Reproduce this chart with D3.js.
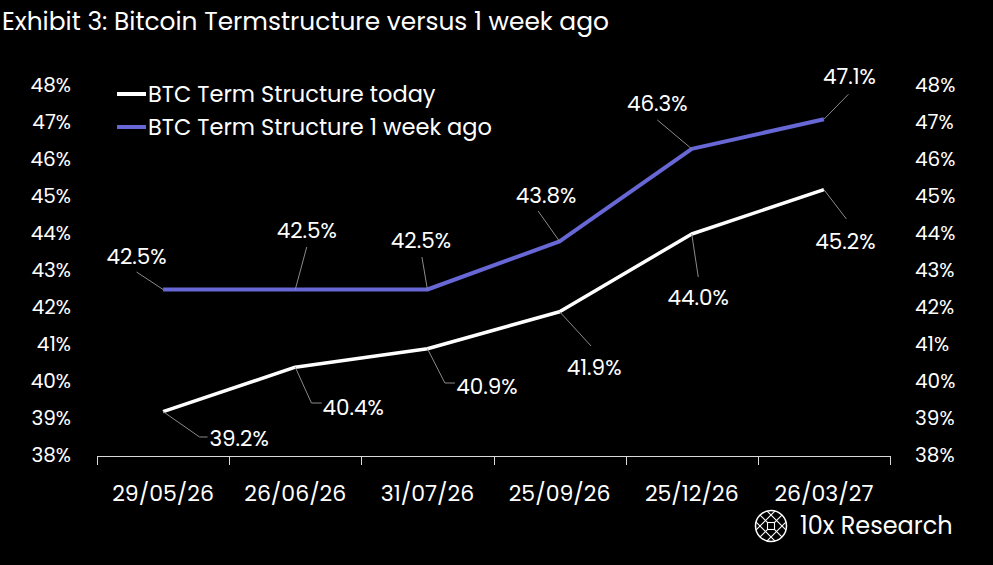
<!DOCTYPE html>
<html><head><meta charset="utf-8">
<script src="https://cdn.jsdelivr.net/npm/d3@7/dist/d3.min.js"></script>
<style>
html,body{margin:0;padding:0;background:#000;}
svg{display:block;font-family:"Poppins","Inter","Open Sans",sans-serif;}
</style></head>
<body><svg id="c" width="993" height="565"></svg>
<script>
const categories = ["29/05/26","26/06/26","31/07/26","25/09/26","25/12/26","26/03/27"];
const today = [39.2, 40.4, 40.9, 41.9, 44.0, 45.2];
const weekAgo = [42.5, 42.5, 42.5, 43.8, 46.3, 47.1];
const yTicks = [38,39,40,41,42,43,44,45,46,47,48];
const seriesNames = ["BTC Term Structure today","BTC Term Structure 1 week ago"];

// label layout (offsets from point): text offset, leader points
const weekLabelLayout = [
  {t:[-26.5,-33.5], l:[[-26.5,-17.5]]},
  {t:[11.5,-59.5], l:[[11.5,-42.5]]},
  {t:[-6.5,-49.5], l:[[-5.5,-32.5]]},
  {t:[-13.5,-46.4], l:[[-21.5,-30.4]]},
  {t:[-34.5,-45.4], l:[[-34.5,-29]]},
  {t:[25.5,-43.3], l:[[24.5,-25]]}
];
const todayLabelLayout = [
  {t:[76,26.4], l:[[36.5,25.4],[44.5,25.4]]},
  {t:[58,39.8], l:[[16.2,35.8],[26.5,35.8]]},
  {t:[59.5,37.3], l:[[17.5,34.3],[27.5,34.3]]},
  {t:[34.5,55.3], l:[[31.5,34.3]]},
  {t:[6.5,63], l:[[6.5,43]]},
  {t:[21.5,51.4], l:[[22.5,29.4]]}
];

const svg = d3.select("#c");
const x = d3.scaleBand().domain(categories).range([97, 890]).padding(0);
const y = d3.scaleLinear().domain([38,48]).range([456,86]);
const cx = d => x(d) + x.bandwidth()/2;

// title
svg.append("text").attr("x",2).attr("y",30).attr("fill","#fff")
  .attr("font-size",24.9).text("Exhibit 3: Bitcoin Termstructure versus 1 week ago");

// y axes
const yl = svg.append("g").attr("transform","translate(84,-0.5)")
  .call(d3.axisLeft(y).tickValues(yTicks).tickSize(0).tickPadding(13).tickFormat(d=>d+"%"));
const yr = svg.append("g").attr("transform","translate(902,-0.5)")
  .call(d3.axisRight(y).tickValues(yTicks).tickSize(0).tickPadding(13).tickFormat(d=>d+"%"));
[yl,yr].forEach(g=>{
  g.select(".domain").remove();
  g.selectAll("text").attr("fill","#fff").attr("font-size",20).attr("font-family","Poppins, Inter, sans-serif");
});

// x axis
const xa = svg.append("g");
xa.append("line").attr("x1",x.range()[0]).attr("x2",x.range()[1]).attr("y1",456.5).attr("y2",456.5)
  .attr("stroke","#d9d9d9").attr("stroke-width",1);
const bounds = categories.map(c=>x(c)).concat([x.range()[1]]);
xa.selectAll("line.tk").data(bounds).enter().append("line").attr("class","tk")
  .attr("x1",d=>Math.round(d)+0.5).attr("x2",d=>Math.round(d)+0.5).attr("y1",456).attr("y2",465)
  .attr("stroke","#d9d9d9").attr("stroke-width",1);
xa.selectAll("text").data(categories).enter().append("text")
  .attr("x",d=>cx(d)).attr("y",493).attr("dy","0.35em").attr("text-anchor","middle")
  .attr("fill","#fff").attr("font-size",22).text(d=>d);

// lines
const line = d3.line().x((d,i)=>cx(categories[i])).y(d=>y(d));
svg.append("path").datum(weekAgo).attr("d",line).attr("fill","none")
  .attr("stroke","#6767d6").attr("stroke-width",4).attr("stroke-linejoin","round");
svg.append("path").datum(today).attr("d",line).attr("fill","none")
  .attr("stroke","#ffffff").attr("stroke-width",3.5).attr("stroke-linejoin","round");

// labels
function labels(vals, layout){
  vals.forEach((v,i)=>{
    const px = cx(categories[i]), py = y(v);
    const pts = [[px,py]].concat(layout[i].l.map(p=>[px+p[0],py+p[1]]));
    svg.append("path").attr("d",d3.line()(pts)).attr("fill","none")
      .attr("stroke","#8a8a8a").attr("stroke-width",1);
    svg.append("text").attr("x",px+layout[i].t[0]).attr("y",py+layout[i].t[1])
      .attr("dy","0.35em").attr("text-anchor","middle").attr("fill","#fff")
      .attr("font-size",21.5).text(v.toFixed(1)+"%");
  });
}
labels(weekAgo, weekLabelLayout);
labels(today, todayLabelLayout);

// legend
const leg = svg.append("g");
[["#ffffff",94],["#6767d6",127]].forEach((c,i)=>{
  leg.append("line").attr("x1",117).attr("x2",146).attr("y1",c[1]).attr("y2",c[1])
    .attr("stroke",c[0]).attr("stroke-width",4);
  leg.append("text").attr("x",148).attr("y",c[1]).attr("dy","0.35em").attr("fill","#fff")
    .attr("font-size",22.5).text(seriesNames[i]);
});

// logo
const lg = svg.append("g").attr("transform","translate(771,526)");
lg.append("clipPath").attr("id","lc").append("circle").attr("r",15.5);
lg.append("circle").attr("r",15.5).attr("fill","none").attr("stroke","#fff").attr("stroke-width",1.5);
const lat = lg.append("g").attr("clip-path","url(#lc)");
[-11,0,11].forEach(o=>{
  lat.append("line").attr("x1",-20).attr("y1",-20+o).attr("x2",20).attr("y2",20+o).attr("stroke","#fff").attr("stroke-width",1.1);
  lat.append("line").attr("x1",-20).attr("y1",20+o).attr("x2",20).attr("y2",-20+o).attr("stroke","#fff").attr("stroke-width",1.1);
});
lg.append("rect").attr("x",-3.5).attr("y",-3.5).attr("width",7).attr("height",7).attr("fill","#000").attr("stroke","#fff").attr("stroke-width",1.1);
svg.append("text").attr("x",800).attr("y",526).attr("dy","0.35em").attr("fill","#fff")
  .attr("font-size",24).text("10x Research");
</script></body></html>
